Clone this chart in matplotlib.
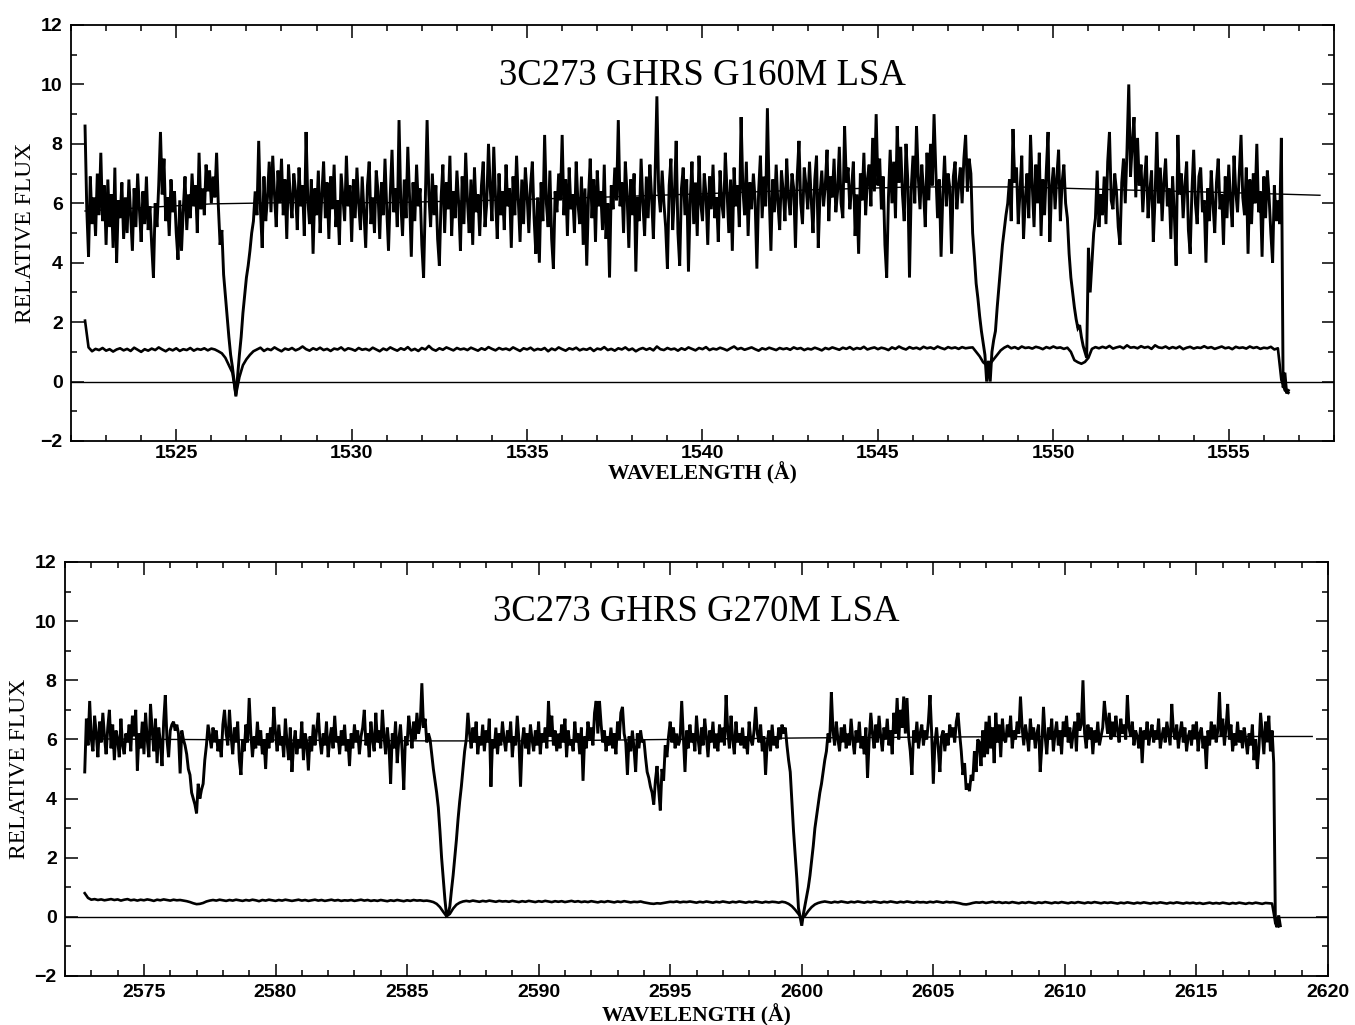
import matplotlib.pyplot as plt
import numpy as np
from matplotlib.ticker import MultipleLocator

plt.rcParams['font.family'] = 'Liberation Sans'
plt.rcParams['font.weight'] = 'bold'

# ---- G160M exposure: flux every 0.05 A from 1522.40, error every 0.1 A ----
g160m_start = 1522.40
g160m_step = 0.05
g160m_flux = [
    8.6, 5.8, 4.2, 6.9, 5.3, 6.2, 4.9, 7.0, 5.6, 7.7, 5.4, 6.6, 4.6, 6.8, 5.2, 6.3, 4.5, 7.2, 4.0, 6.1,
    5.5, 6.7, 4.8, 6.2, 5.0, 6.8, 5.6, 4.4, 6.5, 5.2, 7.0, 5.8, 4.7, 6.4, 5.3, 6.9, 5.1, 5.9, 4.6, 3.5,
    6.0, 5.2, 6.6, 8.4, 6.3, 7.5, 5.4, 6.2, 4.9, 6.8, 5.7, 6.4, 5.0, 4.1, 6.1, 4.4, 5.8, 6.9, 5.1, 6.3,
    5.5, 7.0, 5.9, 6.6, 5.0, 7.7, 5.8, 6.5, 5.6, 7.3, 6.4, 7.1, 6.0, 6.9, 6.2, 7.7, 5.9, 4.6, 5.1, 3.6,
    2.9, 2.2, 1.5, 0.9, 0.5, 0.0, -0.5, 0.2, 0.9, 1.5, 2.3, 2.9, 3.5, 3.9, 4.4, 5.0, 5.4, 6.4, 5.6, 8.1,
    5.8, 4.5, 6.9, 5.4, 6.2, 7.4, 5.7, 7.6, 6.3, 5.2, 7.1, 6.0, 7.5, 5.6, 6.8, 4.8, 7.3, 6.2, 5.5, 7.0,
    6.4, 5.1, 7.2, 5.9, 6.6, 4.9, 8.4, 6.1, 5.3, 6.8, 4.3, 6.5, 5.6, 7.1, 5.0, 6.3, 7.4, 5.5, 6.7, 4.8,
    6.9, 5.8, 7.3, 5.2, 6.1, 4.6, 7.0, 6.2, 5.4, 7.6, 5.9, 6.6, 4.7, 6.8, 5.5, 7.2, 6.0, 5.1, 6.9, 5.7,
    4.5, 6.6, 7.4, 5.3, 6.2, 5.0, 7.1, 6.4, 4.8, 6.7, 5.6, 7.5, 5.8, 4.4, 6.3, 7.8, 5.7, 6.5, 5.2, 8.8,
    6.0, 4.9, 6.8, 5.5, 7.9, 6.2, 4.2, 6.7, 5.4, 7.3, 5.9, 6.5, 4.6, 3.5, 6.1, 8.8, 6.3, 5.2, 7.0, 5.6,
    6.6, 4.8, 3.9, 6.2, 7.3, 5.0, 6.7, 5.8, 7.6, 4.9, 6.4, 5.5, 7.1, 6.0, 4.4, 6.9, 5.3, 7.7, 6.1, 5.0,
    6.8, 4.6, 7.2, 5.7, 6.3, 4.9, 6.6, 7.4, 5.2, 6.0, 8.0, 6.5, 5.4, 7.9, 6.2, 4.8, 7.0, 5.6, 6.4, 5.1,
    7.3, 5.9, 6.5, 4.5, 6.9, 5.6, 7.6, 6.1, 4.7, 6.8, 5.3, 7.2, 6.3, 5.0, 6.6, 7.4, 5.5, 4.3, 6.2, 4.0,
    6.7, 5.4, 8.3, 6.0, 5.2, 7.1, 4.8, 3.8, 6.4, 5.7, 7.0, 6.1, 8.3, 5.6, 6.8, 4.9, 7.2, 5.8, 6.3, 5.0,
    7.4, 6.0, 5.3, 6.9, 4.6, 6.5, 3.9, 6.2, 7.5, 5.5, 6.8, 4.7, 7.1, 5.9, 6.4, 5.1, 7.3, 4.8, 6.0, 3.5,
    6.6, 5.8, 7.2, 6.1, 8.8, 5.9, 6.7, 5.0, 7.4, 6.3, 4.5, 6.8, 5.6, 7.0, 3.7, 6.2, 5.4, 7.5, 6.0, 4.9,
    6.9, 5.5, 7.3, 6.2, 4.8, 7.0, 9.6, 6.4, 5.7, 7.1, 6.0, 5.2, 3.8, 6.6, 7.5, 5.1, 6.3, 8.1, 5.0, 3.9,
    6.5, 7.2, 5.6, 6.8, 3.7, 6.1, 7.4, 5.3, 6.7, 4.9, 7.6, 6.0, 5.4, 7.0, 6.3, 4.6, 6.9, 5.8, 7.3, 5.5,
    6.2, 4.7, 7.1, 6.0, 5.5, 7.7, 6.4, 5.0, 6.8, 4.4, 7.2, 5.9, 6.6, 5.2, 8.9, 6.5, 5.6, 7.4, 4.9, 6.7,
    5.8, 7.0, 6.1, 3.8, 6.4, 7.6, 5.5, 6.9, 5.9, 9.2, 6.3, 4.4, 6.8, 5.7, 7.3, 6.0, 5.1, 7.1, 6.4, 5.4,
    7.5, 6.2, 5.6, 7.0, 6.5, 4.5, 6.9, 8.1, 6.0, 5.3, 7.2, 6.6, 5.8, 7.4, 6.1, 5.0, 6.8, 7.6, 4.5, 6.3,
    7.1, 5.9, 6.6, 7.8, 5.4, 6.9, 6.2, 7.5, 5.7, 6.4, 7.9, 6.0, 5.5, 8.6, 6.7, 7.2, 5.8, 6.5, 7.4, 4.9,
    6.3, 4.3, 7.0, 6.1, 7.7, 5.6, 6.8, 7.3, 5.9, 8.2, 6.4, 9.0, 6.6, 7.5, 5.8, 6.9, 4.6, 3.5, 6.2, 7.8,
    6.0, 7.4, 5.5, 8.6, 6.7, 7.9, 6.3, 5.4, 8.0, 6.8, 3.5, 6.5, 7.6, 6.0, 8.6, 6.9, 5.8, 7.3, 6.4, 5.2,
    7.7, 6.1, 8.0, 6.6, 9.0, 7.1, 5.5, 6.8, 4.2, 6.3, 7.6, 5.9, 7.0, 6.5, 4.3, 6.9, 7.4, 5.8, 6.6, 7.2,
    6.0, 7.5, 8.3, 6.4, 7.5, 7.0, 5.0, 4.2, 3.3, 2.8, 2.2, 1.7, 1.3, 0.9, 0.0, 0.7, 0.0, 1.0, 1.4, 1.7,
    2.5, 3.2, 3.9, 4.6, 5.1, 5.6, 6.0, 6.8, 5.4, 8.5, 6.7, 7.2, 5.3, 6.4, 7.6, 4.8, 6.1, 7.0, 5.5, 8.3,
    6.6, 5.2, 7.3, 6.0, 7.7, 4.9, 6.8, 5.6, 7.1, 8.4, 4.7, 6.5, 7.2, 5.8, 6.9, 7.8, 5.4, 6.7, 7.3, 6.0,
    5.5, 4.3, 3.5, 3.0, 2.5, 2.1, 1.8, 1.9, 1.5, 1.2, 1.0, 0.8, 4.5, 3.0, 4.0, 5.0, 5.5, 7.1, 5.2, 6.3,
    5.6, 6.9, 5.3, 7.4, 8.4, 6.1, 5.8, 7.0, 6.4, 5.2, 4.6, 6.7, 7.5, 6.0, 7.8, 10.0, 6.9, 8.0, 8.9, 6.2,
    8.2, 6.6, 7.3, 5.7, 6.8, 7.6, 5.5, 6.4, 7.1, 4.7, 6.2, 8.4, 6.0, 7.2, 5.4, 6.7, 7.5, 5.9, 6.5, 4.8,
    6.9, 5.6, 3.9, 8.3, 6.3, 7.0, 5.5, 6.6, 7.4, 5.1, 4.3, 6.4, 7.8, 6.0, 5.3, 6.9, 7.2, 5.7, 6.1, 4.0,
    6.5, 5.4, 7.1, 6.0, 5.0, 6.7, 7.5, 5.8, 6.3, 4.6, 6.9, 5.5, 7.3, 6.1, 5.2, 7.6, 6.4, 5.7, 7.0, 8.3,
    6.2, 5.6, 7.2, 4.3, 6.8, 5.3, 7.0, 6.0, 8.0, 5.7, 6.4, 4.2, 6.9, 5.5, 7.1, 6.2, 5.0, 4.0, 6.6, 5.4,
    6.1, 5.3, 8.2, -0.2, 0.3, -0.4, -0.3,
]
g160m_err_step = 0.1
g160m_err = [
    2.05, 1.15, 1.02, 1.10, 1.06, 1.13, 1.04, 1.09, 1.01, 1.08,
    1.12, 1.05, 1.10, 1.03, 1.14, 1.07, 1.00, 1.09, 1.04, 1.11,
    1.06, 1.15, 1.08, 1.02, 1.10, 1.05, 1.12, 1.03, 1.09, 1.06,
    1.13, 1.04, 1.10, 1.07, 1.12, 1.05, 1.11, 1.08, 1.02, 0.95,
    0.80, 0.55, 0.30, -0.45, 0.15, 0.55, 0.75, 0.90, 1.02, 1.08,
    1.14, 1.03, 1.10, 1.06, 1.15, 1.08, 1.02, 1.11, 1.07, 1.13,
    1.05, 1.10, 1.18, 1.09, 1.04, 1.12, 1.07, 1.14, 1.06, 1.10,
    1.03, 1.11, 1.08, 1.15, 1.05, 1.12, 1.09, 1.04, 1.13, 1.07,
    1.10, 1.05, 1.14, 1.08, 1.02, 1.11, 1.06, 1.15, 1.09, 1.04,
    1.12, 1.07, 1.16, 1.05, 1.10, 1.03, 1.13, 1.08, 1.20, 1.09,
    1.04, 1.12, 1.07, 1.15, 1.10, 1.05, 1.13, 1.08, 1.11, 1.06,
    1.14, 1.09, 1.04, 1.12, 1.07, 1.16, 1.10, 1.05, 1.13, 1.08,
    1.11, 1.06, 1.15, 1.09, 1.03, 1.12, 1.08, 1.14, 1.05, 1.10,
    1.07, 1.13, 1.02, 1.11, 1.06, 1.15, 1.09, 1.04, 1.12, 1.08,
    1.14, 1.05, 1.10, 1.07, 1.13, 1.03, 1.11, 1.08, 1.16, 1.06,
    1.10, 1.04, 1.12, 1.08, 1.15, 1.06, 1.11, 1.02, 1.09, 1.13,
    1.07, 1.12, 1.05, 1.18, 1.09, 1.06, 1.13, 1.08, 1.11, 1.04,
    1.12, 1.07, 1.15, 1.10, 1.05, 1.13, 1.09, 1.16, 1.06, 1.11,
    1.08, 1.14, 1.10, 1.05, 1.12, 1.18, 1.09, 1.13, 1.07, 1.11,
    1.15, 1.09, 1.04, 1.12, 1.08, 1.14, 1.10, 1.06, 1.13, 1.09,
    1.12, 1.07, 1.15, 1.10, 1.13, 1.06, 1.11, 1.08, 1.14, 1.10,
    1.05, 1.13, 1.09, 1.15, 1.11, 1.07, 1.14, 1.10, 1.16, 1.08,
    1.13, 1.10, 1.17, 1.08, 1.12, 1.15, 1.09, 1.14, 1.11, 1.06,
    1.15, 1.10, 1.18, 1.12, 1.08, 1.16, 1.11, 1.14, 1.09, 1.17,
    1.12, 1.15, 1.10, 1.18, 1.13, 1.09, 1.16, 1.12, 1.15, 1.10,
    1.16, 1.12, 1.14, 1.15, 1.00, 0.85, 0.65, 0.55, 0.60, 0.75,
    0.90, 1.05, 1.14, 1.20, 1.12, 1.16, 1.10, 1.18, 1.13, 1.15,
    1.11, 1.17, 1.14, 1.09, 1.16, 1.12, 1.18, 1.13, 1.15, 1.10,
    1.14, 1.00, 0.72, 0.65, 0.60, 0.66, 0.80, 1.10, 1.16, 1.12,
    1.17, 1.13, 1.20, 1.11, 1.15, 1.18, 1.12, 1.22, 1.14, 1.16,
    1.12, 1.19, 1.14, 1.17, 1.10, 1.22, 1.15, 1.13, 1.18, 1.11,
    1.16, 1.12, 1.18, 1.09, 1.14, 1.17, 1.11, 1.15, 1.13, 1.19,
    1.13, 1.16, 1.10, 1.14, 1.18, 1.12, 1.15, 1.09, 1.17, 1.13,
    1.15, 1.11, 1.18, 1.13, 1.16, 1.10, 1.14, 1.12, 1.17, 1.08,
    1.12, 0.05, -0.30, -0.38,
]
g160m_cont_wave = [1522.4, 1524.0, 1526.0, 1528.0, 1531.0, 1534.0, 1537.0,
                   1540.0, 1543.0, 1546.0, 1549.0, 1552.0, 1555.0, 1557.6]
g160m_cont = [5.74, 5.85, 5.98, 6.02, 6.02, 6.10, 6.20,
              6.32, 6.45, 6.55, 6.55, 6.45, 6.36, 6.27]

# ---- G270M exposure: flux every 0.0625 A from 2572.75, error every 0.125 A ----
g270m_start = 2572.75
g270m_step = 0.0625
g270m_flux = [
    4.9, 6.7, 5.8, 7.3, 6.0, 5.6, 6.8, 6.2, 5.4, 6.6, 5.9, 6.9, 6.1, 5.5, 6.4, 7.0,
    5.7, 6.5, 5.3, 6.3, 6.0, 5.4, 6.7, 5.8, 5.5, 6.2, 5.9, 6.5, 5.6, 6.8, 6.1, 7.0,
    4.95, 6.2, 5.7, 6.6, 5.5, 6.9, 6.0, 5.4, 7.2, 6.3, 5.6, 6.7, 5.2, 6.4, 5.9, 5.1,
    6.6, 7.5, 6.0, 5.4, 6.3, 6.5, 6.6, 6.3, 6.5, 6.2, 4.85, 6.3, 6.0, 5.8, 5.5, 5.0,
    4.8, 4.2, 4.0, 3.8, 3.5, 4.5, 4.0, 4.3, 4.5, 5.3, 5.8, 6.5, 6.1, 5.7, 6.4, 5.9,
    6.3, 5.6, 6.0, 5.4, 6.5, 7.0, 6.2, 5.8, 7.0, 6.1, 5.5, 6.4, 5.9, 6.6, 5.3, 4.8,
    6.0, 5.6, 6.5, 5.9, 7.4, 6.2, 5.4, 6.1, 5.7, 6.6, 5.8, 6.3, 5.5, 6.0, 5.0, 6.2,
    5.7, 6.4, 5.9, 7.1, 6.2, 5.6, 6.5, 5.8, 6.1, 5.4, 6.7, 5.9, 5.3, 6.4, 4.9, 5.8,
    6.3, 5.5, 6.0, 5.7, 6.6, 5.3, 6.2, 5.9, 4.95, 6.1, 5.6, 6.5, 5.8, 6.3, 6.9, 6.0,
    5.5, 6.2, 5.8, 6.6, 5.4, 6.0, 6.4, 5.7, 6.8, 5.9, 6.1, 5.5, 6.3, 5.8, 6.5, 5.6,
    6.0, 5.1, 6.2, 5.7, 6.5, 5.9, 6.3, 5.5, 6.1, 6.4, 7.0, 5.8, 6.2, 5.4, 6.6, 6.0,
    5.6, 6.9, 5.9, 6.3, 5.7, 7.0, 6.1, 5.5, 6.4, 5.8, 4.5, 6.2, 5.7, 6.6, 5.2, 6.0,
    6.5, 5.6, 4.3, 6.1, 5.8, 6.8, 6.3, 5.7, 6.6, 6.0, 6.9, 6.2, 6.5, 7.9, 6.4, 6.7,
    5.9, 6.2, 6.0, 5.5, 5.0, 4.6, 4.2, 3.7, 2.9, 2.0, 1.3, 0.6, 0.05, 0.1, 0.35, 0.9,
    1.4, 2.0, 2.6, 3.3, 3.9, 4.4, 5.0, 5.6, 6.0, 6.9, 6.2, 5.7, 6.4, 5.9, 6.6, 5.5,
    6.1, 5.8, 6.5, 5.6, 6.3, 5.9, 6.7, 4.4, 6.0, 5.7, 6.4, 5.5, 6.2, 5.8, 6.6, 6.0,
    5.6, 6.3, 5.9, 6.6, 5.4, 6.1, 5.8, 6.8, 6.0, 4.4, 5.9, 6.4, 5.7, 6.2, 5.5, 6.5,
    6.0, 5.6, 6.3, 5.8, 6.6, 5.5, 6.2, 5.9, 6.4, 5.7, 7.3, 6.1, 6.8, 5.8, 6.3, 5.6,
    6.2, 5.7, 6.5, 5.9, 6.7, 5.4, 6.3, 5.8, 6.0, 5.6, 6.6, 5.9, 6.2, 5.5, 6.4, 4.6,
    6.1, 5.7, 6.6, 6.0, 6.4, 5.8, 6.9, 7.3, 6.2, 7.3, 6.5, 5.9, 6.3, 5.6, 6.1, 5.8,
    6.4, 5.7, 6.2, 5.5, 6.6, 6.0, 6.9, 7.1, 6.2, 5.9, 4.8, 6.1, 5.6, 6.3, 5.7, 4.9,
    6.2, 5.7, 6.3, 5.9, 6.0, 5.4, 4.9, 4.7, 4.4, 4.2, 3.8, 4.6, 5.1, 4.3, 3.6, 5.0,
    4.6, 5.8, 5.4, 6.1, 6.6, 5.9, 6.4, 5.7, 6.2, 5.8, 6.0, 7.3, 6.1, 4.9, 6.3, 5.7,
    6.5, 5.9, 6.2, 5.6, 6.8, 6.0, 5.5, 6.4, 5.8, 6.7, 6.1, 5.4, 6.3, 5.9, 6.6, 5.7,
    6.2, 5.6, 6.5, 5.9, 6.4, 5.8, 7.5, 6.3, 5.7, 6.8, 6.0, 5.5, 6.6, 5.9, 6.2, 5.8,
    6.4, 5.7, 6.1, 5.5, 6.6, 6.0, 5.8, 6.3, 7.1, 6.2, 5.9, 6.5, 5.6, 6.1, 4.8, 5.9,
    6.3, 5.6, 6.5, 5.8, 6.1, 5.7, 6.4, 6.0, 6.5, 6.2, 6.4, 5.8, 5.3, 4.9, 3.9, 2.9,
    2.1, 1.3, 0.3, 0.0, -0.3, 0.1, 0.4, 0.7, 1.0, 1.4, 1.9, 2.4, 3.0, 3.4, 3.8, 4.2,
    4.5, 4.9, 5.3, 5.6, 6.2, 5.9, 7.6, 6.3, 5.8, 6.6, 6.0, 5.6, 6.4, 5.9, 6.5, 5.7,
    6.2, 5.8, 6.7, 6.0, 5.5, 6.3, 5.9, 6.6, 5.7, 6.1, 5.5, 6.4, 4.7, 6.0, 6.9, 6.2,
    5.7, 6.5, 5.9, 6.8, 6.1, 5.6, 6.4, 6.0, 6.7, 5.8, 6.3, 5.5, 6.9, 6.2, 7.4, 6.0,
    7.0, 6.4, 7.45, 6.2, 7.4, 6.1, 5.6, 4.8, 6.3, 5.9, 6.6, 5.7, 6.2, 6.5, 5.8, 6.3,
    6.0, 6.6, 7.5, 6.2, 4.5, 5.9, 6.4, 5.7, 4.9, 6.1, 6.3, 5.6, 6.2, 5.8, 6.5, 6.1,
    6.4, 5.9, 6.6, 6.9, 6.2, 5.6, 4.8, 5.2, 4.3, 4.5, 4.25, 4.8, 4.6, 5.6, 4.9, 6.0,
    5.9, 5.1, 6.3, 5.4, 6.6, 5.5, 6.8, 5.7, 6.4, 5.2, 6.9, 5.9, 6.5, 5.4, 6.7, 6.0,
    5.9, 6.5, 6.1, 6.8, 5.7, 6.3, 6.0, 6.6, 6.2, 7.45, 6.4, 5.8, 6.5, 6.1, 5.6, 6.7,
    6.0, 6.4, 5.7, 6.2, 6.5, 4.9, 5.8, 7.1, 6.1, 5.5, 6.4, 6.0, 6.7, 5.6, 6.2, 6.6,
    5.8, 6.3, 5.5, 6.6, 6.1, 6.8, 5.9, 6.4, 5.7, 6.2, 6.6, 5.6, 6.9, 6.3, 6.5, 8.0,
    6.2, 5.7, 6.5, 6.0, 6.4, 5.5, 6.3, 5.9, 6.6, 5.8, 6.1, 6.4, 7.3, 6.7, 6.2, 6.9,
    6.0, 6.6, 6.1, 6.8, 6.3, 5.9, 6.7, 6.2, 6.5, 6.0, 7.5, 6.4, 6.1, 6.6, 5.8, 6.3,
    6.1, 5.7, 6.4, 5.2, 6.3, 6.0, 6.6, 5.8, 6.2, 6.5, 5.9, 6.3, 6.0, 6.7, 5.7, 6.1,
    6.4, 5.9, 6.6, 6.2, 5.8, 7.2, 6.3, 6.0, 6.5, 5.7, 6.2, 6.6, 5.9, 6.4, 5.6, 6.1,
    6.3, 5.8, 6.5, 6.0, 6.6, 5.6, 6.2, 6.4, 5.7, 6.1, 5.0, 6.3, 5.8, 6.6, 6.0, 6.5,
    5.9, 6.3, 7.6, 6.1, 6.7, 5.8, 6.4, 7.2, 6.0, 6.5, 5.6, 6.2, 5.8, 6.6, 5.9, 6.3,
    5.7, 6.4, 6.0, 5.5, 6.2, 5.8, 6.5, 5.3, 6.0, 5.0, 5.7, 6.9, 6.2, 5.5, 6.6, 5.9,
    6.8, 5.6, 6.3, 5.2, -0.2, -0.35, 0.05, -0.3,
]
g270m_err_step = 0.125
g270m_err = [
    0.80, 0.64, 0.58, 0.60, 0.57, 0.59, 0.56, 0.58,
    0.60, 0.57, 0.59, 0.55, 0.58, 0.60, 0.56, 0.58,
    0.55, 0.58, 0.56, 0.59, 0.57, 0.54, 0.58, 0.56,
    0.59, 0.57, 0.55, 0.58, 0.56, 0.57, 0.55, 0.53,
    0.50, 0.46, 0.43, 0.44, 0.47, 0.52, 0.55, 0.57,
    0.55, 0.58, 0.56, 0.54, 0.57, 0.55, 0.58, 0.56,
    0.54, 0.57, 0.55, 0.58, 0.56, 0.53, 0.57, 0.55,
    0.58, 0.56, 0.54, 0.57, 0.55, 0.58, 0.56, 0.54,
    0.56, 0.58, 0.55, 0.57, 0.54, 0.56, 0.58, 0.55,
    0.57, 0.54, 0.56, 0.58, 0.55, 0.57, 0.54, 0.56,
    0.55, 0.57, 0.54, 0.56, 0.58, 0.55, 0.57, 0.54,
    0.56, 0.54, 0.57, 0.55, 0.53, 0.56, 0.54, 0.57,
    0.55, 0.53, 0.56, 0.54, 0.57, 0.55, 0.56, 0.54,
    0.55, 0.53, 0.50, 0.44, 0.33, 0.17, 0.02, 0.10,
    0.28, 0.41, 0.48, 0.52, 0.54, 0.52, 0.55, 0.53,
    0.51, 0.54, 0.52, 0.55, 0.53, 0.51, 0.54, 0.52,
    0.53, 0.51, 0.54, 0.52, 0.50, 0.53, 0.51, 0.54,
    0.52, 0.50, 0.53, 0.51, 0.54, 0.52, 0.50, 0.53,
    0.51, 0.53, 0.50, 0.52, 0.54, 0.51, 0.53, 0.50,
    0.52, 0.50, 0.53, 0.51, 0.49, 0.52, 0.50, 0.53,
    0.51, 0.49, 0.52, 0.50, 0.53, 0.51, 0.49, 0.51,
    0.50, 0.52, 0.49, 0.47, 0.45, 0.44, 0.46, 0.45,
    0.47, 0.49, 0.51, 0.50, 0.52, 0.49, 0.51, 0.50,
    0.52, 0.50, 0.48, 0.51, 0.49, 0.52, 0.50, 0.48,
    0.51, 0.49, 0.52, 0.50, 0.48, 0.51, 0.49, 0.52,
    0.50, 0.48, 0.51, 0.49, 0.52, 0.50, 0.48, 0.51,
    0.49, 0.51, 0.50, 0.48, 0.51, 0.49, 0.44, 0.36,
    0.24, 0.10, -0.05, 0.04, 0.20, 0.33, 0.42, 0.47,
    0.50, 0.52, 0.50, 0.48, 0.51, 0.49, 0.52, 0.50,
    0.48, 0.51, 0.49, 0.52, 0.50, 0.48, 0.51, 0.49,
    0.52, 0.50, 0.48, 0.51, 0.49, 0.52, 0.50, 0.48,
    0.51, 0.49, 0.52, 0.50, 0.48, 0.51, 0.49, 0.50,
    0.48, 0.51, 0.49, 0.52, 0.50, 0.48, 0.51, 0.49,
    0.50, 0.48, 0.46, 0.43, 0.42, 0.44, 0.47, 0.49,
    0.48, 0.50, 0.47, 0.49, 0.51, 0.48, 0.50, 0.47,
    0.49, 0.47, 0.50, 0.48, 0.46, 0.49, 0.47, 0.50,
    0.48, 0.46, 0.49, 0.47, 0.50, 0.48, 0.46, 0.49,
    0.47, 0.50, 0.48, 0.46, 0.49, 0.47, 0.50, 0.48,
    0.46, 0.49, 0.47, 0.50, 0.48, 0.46, 0.49, 0.47,
    0.49, 0.47, 0.45, 0.48, 0.46, 0.49, 0.47, 0.45,
    0.48, 0.46, 0.49, 0.47, 0.45, 0.48, 0.46, 0.49,
    0.47, 0.45, 0.48, 0.46, 0.49, 0.47, 0.45, 0.48,
    0.46, 0.48, 0.45, 0.47, 0.44, 0.46, 0.48, 0.45,
    0.47, 0.45, 0.48, 0.46, 0.44, 0.47, 0.45, 0.48,
    0.46, 0.44, 0.47, 0.45, 0.48, 0.46, 0.44, 0.47,
    0.46, 0.45, -0.20, -0.32,
]
g270m_cont_wave = [2572.8, 2576.0, 2580.0, 2586.0, 2590.0, 2595.0,
                   2600.0, 2605.0, 2610.0, 2615.0, 2619.4]
g270m_cont = [6.02, 6.00, 5.98, 5.95, 5.95, 6.00,
              6.05, 6.08, 6.10, 6.10, 6.10]


def grid(start, step, n):
    return start + step * np.arange(n)


def draw_panel(ax, flux_wave, flux, err_wave, err, cont_wave, cont,
               xlim, title, xlabel_y, xpad):
    ax.plot(flux_wave, flux, color='black', lw=2.1, solid_joinstyle='miter')
    ax.plot(err_wave, err, color='black', lw=1.9)
    ax.plot(cont_wave, cont, color='black', lw=1.0)
    ax.axhline(0, color='black', lw=1.0)

    ax.set_xlim(*xlim)
    ax.set_ylim(-2, 12)
    ax.xaxis.set_major_locator(MultipleLocator(5))
    ax.xaxis.set_minor_locator(MultipleLocator(1))
    ax.yaxis.set_major_locator(MultipleLocator(2))
    ax.yaxis.set_minor_locator(MultipleLocator(1))
    ax.tick_params(which='both', direction='in', top=True, right=True,
                   width=1.1, labelsize=14)
    ax.tick_params(which='major', length=9)
    ax.tick_params(which='minor', length=4.5)
    ax.tick_params(axis='x', pad=xpad)
    ax.tick_params(axis='y', pad=6)
    for side in ax.spines.values():
        side.set_linewidth(1.3)

    ax.text(0.5, 0.879, title, transform=ax.transAxes, ha='center',
            va='center', fontsize=26.5, family='Liberation Serif',
            fontweight='normal')
    ax.text(-0.036, 0.5, 'RELATIVE FLUX', transform=ax.transAxes,
            rotation=90, ha='center', va='center', fontsize=17,
            family='Liberation Serif', fontweight='normal')
    ax.text(0.5, xlabel_y, 'WAVELENGTH (Å)', transform=ax.transAxes,
            ha='center', va='center', fontsize=15.5,
            family='Liberation Serif', fontweight='bold')


fig = plt.figure(figsize=(13.55, 10.25), dpi=100)
W, H = 1355.0, 1025.0
ax_top = fig.add_axes([71 / W, 1 - 441 / H, (1334 - 71) / W, (441 - 25) / H])
ax_bot = fig.add_axes([65 / W, 1 - 976 / H, (1328 - 65) / W, (976 - 562) / H])

draw_panel(ax_top,
           grid(g160m_start, g160m_step, len(g160m_flux)), g160m_flux,
           grid(g160m_start, g160m_err_step, len(g160m_err)), g160m_err,
           g160m_cont_wave, g160m_cont,
           (1522, 1558), '3C273 GHRS G160M LSA', -0.077, 3.0)

draw_panel(ax_bot,
           grid(g270m_start, g270m_step, len(g270m_flux)), g270m_flux,
           grid(g270m_start, g270m_err_step, len(g270m_err)), g270m_err,
           g270m_cont_wave, g270m_cont,
           (2572, 2620), '3C273 GHRS G270M LSA', -0.096, 6.0)

fig.savefig('out.png', dpi=100)
